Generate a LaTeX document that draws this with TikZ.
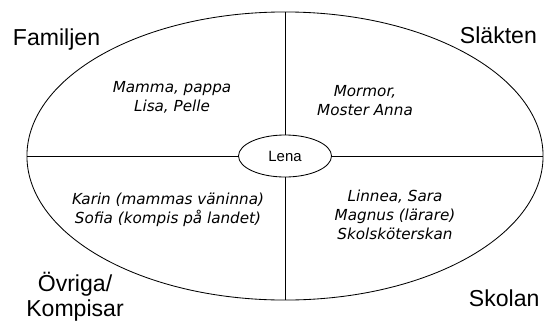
\documentclass[tikz,border=0pt]{standalone}
\usepackage{fontspec}
\setmainfont{Liberation Sans}
\newfontfamily\handfont{DejaVu Sans}
\usepackage{tikz}
\usetikzlibrary{shapes.geometric}
\tikzset{group/.style={font=\fontsize{16.4}{17.8}\selectfont, align=center}}
\tikzset{names/.style={font=\handfont\itshape\fontsize{10.8}{13.5}\selectfont, align=center}}
\tikzset{ring/.style={ellipse, draw, line width=0.6pt, inner sep=0pt}}

\begin{document}
\begin{tikzpicture}[x=0.025cm,y=-0.025cm]
\useasboundingbox (0,0) rectangle (544,329);
\node[ring, minimum width=12.9cm, minimum height=7.2cm] (world) at (285,156) {};
\node[ring, minimum width=2.325cm, minimum height=1.05cm,
  font=\fontsize{10.6}{12}\selectfont] (lena) at (285,156) {Lena};
\draw[line width=0.6pt] (world.west) -- (lena.west);
\draw[line width=0.6pt] (lena.east) -- (world.east);
\draw[line width=0.6pt] (world.north) -- (lena.north);
\draw[line width=0.6pt] (lena.south) -- (world.south);
% the four groups
\node[group, anchor=base west] (familjen) at (8,45) {Familjen};
\node[group, anchor=base west] (slakten) at (455,43) {Sl\"akten};
\node[group, anchor=base west] (skolan) at (464,306) {Skolan};
\node[group] (ovriga) at (75,297) {\"Ovriga/\\Kompisar};
% who is in them
\node[names] (famnames) at (172,97) {Mamma, pappa\\Lisa, Pelle};
\node[names] (slaktnames) at (365,101) {Mormor,\\Moster Anna};
\node[names] (ovrnames) at (168,210) {Karin (mammas v\"aninna)\\Sofia (kompis p\aa{} landet)};
\node[names] (skolnames) at (395,215) {Linnea, Sara\\Magnus (l\"arare)\\Skolsk\"oterskan};
\end{tikzpicture}
\end{document}
